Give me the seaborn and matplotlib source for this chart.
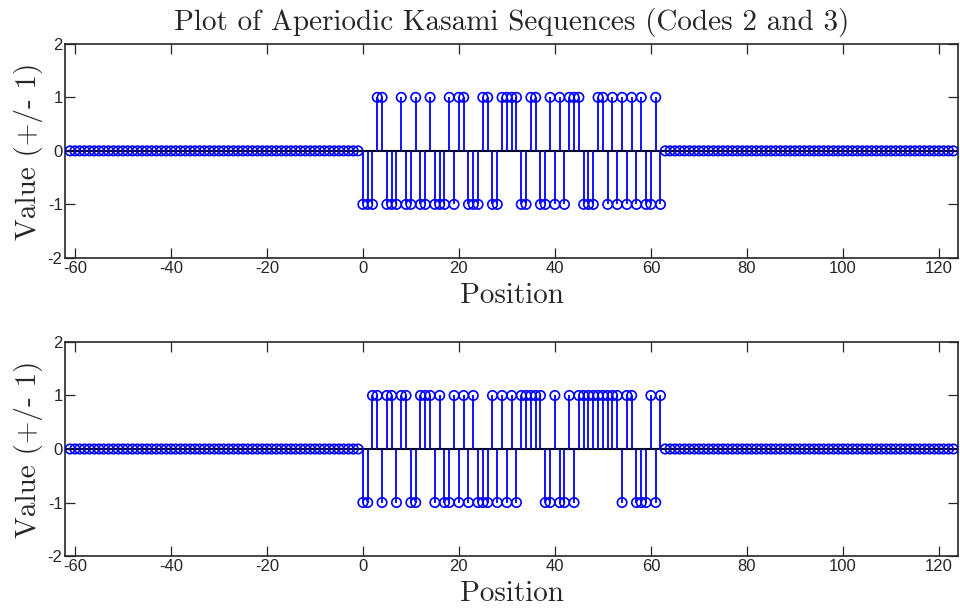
import numpy as np
import pandas as pd
import seaborn as sns
import matplotlib.pyplot as plt

# Kasami code 2 (top) and code 3 (bottom), positions 0..62
code2 = [-1, -1, -1, 1, 1, -1, -1, -1, 1, -1,
         -1, 1, -1, -1, 1, -1, -1, -1, 1, -1,
         1, 1, -1, -1, -1, 1, 1, -1, -1, 1,
         1, 1, 1, -1, -1, 1, 1, -1, -1, 1,
         -1, 1, -1, 1, 1, 1, -1, -1, -1, 1,
         1, -1, 1, -1, 1, -1, 1, -1, 1, -1,
         -1, 1, -1]
code3 = [-1, -1, 1, 1, -1, 1, 1, -1, 1, 1,
         -1, -1, 1, 1, 1, -1, 1, -1, -1, 1,
         -1, 1, -1, 1, -1, -1, -1, 1, -1, 1,
         -1, 1, -1, 1, 1, 1, 1, 1, -1, -1,
         1, -1, -1, 1, -1, 1, 1, 1, 1, 1,
         1, 1, 1, 1, -1, 1, 1, -1, -1, -1,
         1, -1, 1]

pad_left = np.arange(-61, 0)
pad_right = np.arange(63, 124)
xticks = [-60, -40, -20, 0, 20, 40, 60, 80, 100, 120]
yticks = [-2, -1, 0, 1, 2]

title = "Plot of Aperiodic Kasami Sequences (Codes 2 and 3)"
xlabel = "Position"
ylabel = "Value (+/- 1)"


def padded(code):
    pos = np.concatenate([pad_left, np.arange(len(code)), pad_right])
    val = np.concatenate([np.zeros(len(pad_left)), code, np.zeros(len(pad_right))])
    return pd.DataFrame({"x": pos, "y": val})


sns.set_style("ticks")
plt.rcParams["font.family"] = ["Liberation Sans", "DejaVu Sans"]
plt.rcParams["axes.unicode_minus"] = False
serif = "cmr10"

fig, axes = plt.subplots(2, 1, figsize=(9.6, 6.09), dpi=100)
fig.subplots_adjust(left=0.068, right=0.998, top=0.928, bottom=0.087, hspace=0.393)

for ax, code in zip(axes, [code2, code3]):
    df = padded(code)
    ax.axhline(0, color="black", lw=1.5, zorder=1)
    ax.vlines(df["x"], 0, df["y"], color="blue", lw=1.3, zorder=2)
    sns.scatterplot(data=df, x="x", y="y", ax=ax, marker="o", s=46,
                    fc="none", ec="blue", linewidth=1.2, zorder=3, legend=False)
    ax.set_xlim(-62, 124)
    ax.set_ylim(-2, 2)
    ax.set_xticks(xticks)
    ax.set_yticks(yticks)
    ax.tick_params(direction="in", length=7, width=0.9, top=True, right=True,
                   labelsize=12, pad=2)
    for s in ax.spines.values():
        s.set_visible(True)
        s.set_linewidth(1.2)
    ax.set_xlabel(xlabel, fontfamily=serif, fontsize=21, labelpad=5)
    ax.set_ylabel(ylabel, fontfamily=serif, fontsize=21, labelpad=3)

axes[0].set_title(title, fontfamily=serif, fontsize=21, pad=10)

plt.savefig("out.png")
